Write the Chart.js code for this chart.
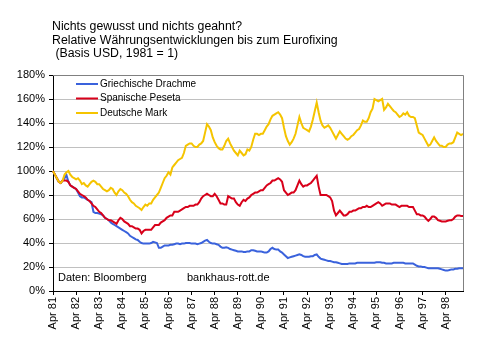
<!DOCTYPE html>
<html><head><meta charset="utf-8">
<script src="https://cdn.jsdelivr.net/npm/chart.js@4"></script>
<style>html,body{margin:0;padding:0;background:#fff;}#wrap{width:495px;height:351px;position:relative;}</style>
</head><body><div id="wrap"><canvas id="c" width="495" height="351"></canvas></div>
<script>
const TITLE_LINES = ["Nichts gewusst und nichts geahnt?", "Relative Währungsentwicklungen bis zum Eurofixing", " (Basis USD, 1981 = 1)"];
const SERIES_NAMES = ["Griechische Drachme", "Spanische Peseta", "Deutsche Mark"];
const SOURCE_TEXT = ["Daten: Bloomberg", "bankhaus-rott.de"];
const MONTHS = ["Jan","Feb","Mrz","Apr","Mai","Jun","Jul","Aug","Sep","Okt","Nov","Dez"];
const START_YEAR = 1981, START_MONTH = 3; // Apr 81
const N_MONTHS = 214; // Apr 81 .. Jan 99
const CATEGORIES = [];
for (let i = 0; i < N_MONTHS; i++) {
  const mm = (START_MONTH + i) % 12, yy = START_YEAR + Math.floor((START_MONTH + i) / 12);
  CATEGORIES.push(MONTHS[mm] + " " + String(yy).slice(2));
}
const Y_TICKS = [0,20,40,60,80,100,120,140,160,180];

const DRACHME = [100,97,94,91,90,92,94,96.5,91,88,87,86,85,82,79,78,78,77,76,75,74,66,65,65,64.5,64,63,61,60,59,57,56,55,54,53,52,51,50,49,48,46,45,44,43,42.5,41,40,39.5,39.5,39.5,39.5,40,41,40.5,40,36,36,37,38,38,38,38.5,38.5,39,39.5,39.5,39,39.5,39.5,40,40,40,39.5,39.5,39.5,39,39.5,40,41,42,42.5,41,40,39.5,39.5,39,38.5,37,36,36,36.5,36,35,34.5,34,33.5,33,33,33,32.5,32.5,33,33,34,34,33.5,33,33,33,32.5,32,32,33,35,36,35,34.5,34.5,33,32,30.5,29,27.5,28,28.5,29,29.5,30,30.5,30,29,28.5,28.5,28.5,29,29,30,30.5,28.5,27,26.5,26,25.5,25,25,24.5,24,24,23.5,23,22.5,22.5,22.5,22.5,23,23,23,23,23.5,23.5,23.5,23.5,23.5,23.5,23.5,23.5,23.5,23.5,24,24,24,23.5,23.5,23,23,23,23,23.5,23.5,23.5,23.5,23.5,23.5,23,23,23,23,23,22,21,20.5,20.5,20,20,19.5,19,19,19,19,19,19,18.5,18,17.5,17,17,17.5,18,18,18.5,18.5,19,19,19];
const PESETA = [100,97,94,91,90,92,92,92,91,88,87,86,85,83,81,80,79,78,76,75,73,71,70,68,66,65,63,61,60,59,59,58,57,56,59,61,60,58,57,56,54,54,53,52,52,51,48,50,51,51,51,51,53,55,55,55,57,58,59,61,62,63,63,66,66,66,67,68,69,70,70,71,71,71,72,72,74,77,79,80,81,80,79,79,81,79,76,73,73,72,72,79,78,77,77,74,72,71,74,76,75,77,78,80,81,82,82,83,84,84,86,88,89,90,92,92,93,94,93,91,84,82,80,81,82,82,84,88,92,89,87,88,88,89,90,92,94,96,87,80,80,80,80,79,78,75,67,63,65,67,65,63,63,64,66,66,67,67,68,69,69,70,70,71,70,70,71,72,73,74,73,71,72,73,73,73,72,72,72,71,70,71,71,71,71,70,70,70,67,64,64,63,63,62,60,58.5,60,62,62,61,59,58.5,58,58,58,58.5,59,59,60,62,63,63,62.5,62.5];
const MARK = [100,97,94,91,90,92,97,99,100,97,95,94,93,94,92,89,90,88,87,89,91,92,91,89,89,87,85,84,83,84,86,85,82,80,83,85,84,82,81,79,76,74,73,71,70,69,67.5,70,72,71,73,73,76,78,80,82,86,90,94,96,99,97,103,105,107,109,110,111,115,121,122,123,123,121,120,120,122,123,125,132,139,137,134,128,124,121,119,118,118,121,125,127,123,120,117,115,113,117,115,113,114,118,117,120,126,131,131,130,131,131,134,137,139,143,146,147,148,149,147,144,136,129,125,122,124,127,131,138,145,140,136,135,134,133,137,143,150,157,149,142,138,136,137,138,136,133,130,127,130,133,131,129,127,126,127,129,130,132,134,135,138,142,141,141,144,149,152,160,159,158,159,160,151,153,156,154,152,150,149,147,145,146,148,147,149,146,145,145,144,138,132,131,130,127,124,121,122,125,128,125,123,121,121,120,120,122,123,123,124,128,132,131,130,131];

const COLORS = ["#3a62dc", "#d8001a", "#f5c400"];

const overlay = {
  id: 'overlay',
  afterDraw(chart) {
    const ctx = chart.ctx, a = chart.chartArea;
    ctx.save();
    // plot border (top/right)
    ctx.strokeStyle = '#808080'; ctx.lineWidth = 1;
    ctx.beginPath();
    ctx.moveTo(a.left, Math.round(a.top) + 0.5); ctx.lineTo(Math.round(a.right) + 0.5, Math.round(a.top) + 0.5);
    ctx.lineTo(Math.round(a.right) + 0.5, a.bottom);
    ctx.stroke();
    // title
    ctx.fillStyle = '#000';
    ctx.font = '12.3px "Liberation Sans", Arial, sans-serif';
    ctx.textBaseline = 'middle'; ctx.textAlign = 'left';
    TITLE_LINES.forEach((t, i) => ctx.fillText(t, 52, 27 + i * 13.5));
    // legend
    ctx.font = '10px "Liberation Sans", Arial, sans-serif';
    SERIES_NAMES.forEach((n, i) => {
      const y = 84 + i * 14.5;
      ctx.strokeStyle = COLORS[i]; ctx.lineWidth = 2;
      ctx.beginPath(); ctx.moveTo(76, y); ctx.lineTo(98, y); ctx.stroke();
      ctx.fillStyle = '#000';
      ctx.fillText(n, 100, y);
    });
    // source texts
    ctx.font = '11px "Liberation Sans", Arial, sans-serif';
    ctx.fillText(SOURCE_TEXT[0], 58, 278);
    ctx.fillText(SOURCE_TEXT[1], 187, 278);
    ctx.restore();
  }
};

new Chart(document.getElementById('c'), {
  type: 'line',
  data: {
    labels: CATEGORIES,
    datasets: [
      { label: SERIES_NAMES[0], data: DRACHME, borderColor: COLORS[0], order: 3 },
      { label: SERIES_NAMES[1], data: PESETA, borderColor: COLORS[1], order: 2 },
      { label: SERIES_NAMES[2], data: MARK, borderColor: COLORS[2], order: 1 }
    ]
  },
  options: {
    responsive: false,
    animation: false,
    devicePixelRatio: 1,
    layout: { padding: { top: 75, right: 32, left: 0, bottom: 0 } },
    elements: { point: { radius: 0 }, line: { borderWidth: 2, tension: 0 } },
    plugins: { legend: { display: false }, tooltip: { enabled: false }, title: { display: false } },
    scales: {
      x: {
        type: 'category',
        offset: false,
        afterFit(s) { s.height = 60; },
        grid: { drawOnChartArea: false, drawTicks: true, tickLength: 4, tickColor: '#000' },
        border: { color: '#000', width: 1 },
        ticks: {
          autoSkip: false, maxRotation: 90, minRotation: 90, padding: 2,
          color: '#000', font: { family: '"Liberation Sans", Arial, sans-serif', size: 11 },
          callback(v, i) { const l = CATEGORIES[i]; return l.startsWith('Apr') ? l : null; }
        }
      },
      y: {
        min: 0, max: 180,
        afterFit(s) { s.width = 53; },
        afterBuildTicks(s) { s.ticks = Y_TICKS.map(v => ({ value: v })); },
        grid: { color: '#c0c0c0', tickLength: 4, tickColor: '#000' },
        border: { color: '#000', width: 1 },
        ticks: {
          padding: 4, color: '#000',
          font: { family: '"Liberation Sans", Arial, sans-serif', size: 11 },
          callback: v => v + '%'
        }
      }
    }
  },
  plugins: [overlay]
});
</script></body></html>
